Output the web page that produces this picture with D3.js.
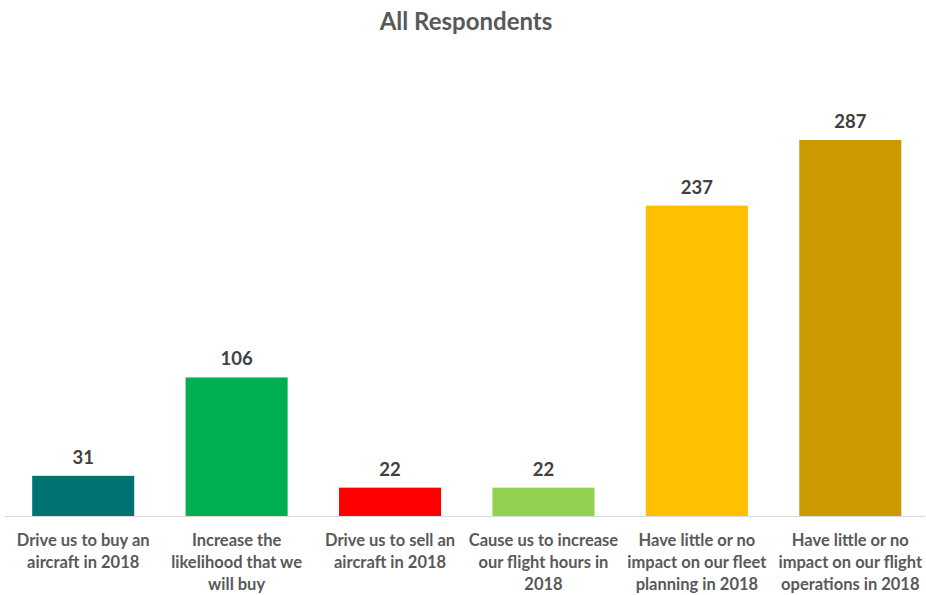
<!DOCTYPE html>
<html>
<head>
  <meta charset="utf-8">
  <title>All Respondents</title>
  <script src="https://d3js.org/d3.v7.min.js"></script>
  <style>
    body { margin: 0; background: #fff; }
    text { font-family: Lato, "Open Sans", sans-serif; font-weight: bold; }
  </style>
</head>
<body>
  <svg id="chart" width="926" height="595"></svg>

  <script>
    // category labels, one entry per line break
    var categories = [
      "Drive us to buy an\naircraft in 2018",
      "Increase the\nlikelihood that we\nwill buy",
      "Drive us to sell an\naircraft in 2018",
      "Cause us to increase\nour flight hours in\n2018",
      "Have little or no\nimpact on our fleet\nplanning in 2018",
      "Have little or no\nimpact on our flight\noperations in 2018"
    ];
    var values = [31, 106, 22, 22, 237, 287];
    var colors = ["#007272", "#00B050", "#FF0000", "#92D050", "#FFC000", "#CC9900"];

    var svg = d3.select("#chart");
    var baseY = 516.5;
    var topY = 140;

    var x = d3.scaleBand()
      .domain(d3.range(categories.length))
      .range([6.5, 927])
      .paddingInner(0.335)
      .paddingOuter(0.1675);

    var y = d3.scaleLinear()
      .domain([0, 287])
      .range([baseY, topY]);

    // title
    svg.append("text")
      .attr("x", 466)
      .attr("y", 30)
      .attr("text-anchor", "middle")
      .style("font-size", "24px")
      .style("fill", "#595959")
      .text("All Respondents");

    // bars
    svg.selectAll(".bar")
      .data(values)
      .enter().append("rect")
        .attr("class", "bar")
        .attr("x", function(d, i) { return x(i); })
        .attr("width", x.bandwidth())
        .attr("y", function(d) { return y(d); })
        .attr("height", function(d) { return baseY - y(d); })
        .style("fill", function(d, i) { return colors[i]; });

    // baseline
    svg.append("line")
      .attr("x1", 5).attr("x2", 925)
      .attr("y1", baseY).attr("y2", baseY)
      .style("stroke", "#D9D9D9")
      .style("stroke-width", 1);

    // value labels
    svg.selectAll(".val")
      .data(values)
      .enter().append("text")
        .attr("class", "val")
        .attr("x", function(d, i) { return x(i) + x.bandwidth() / 2; })
        .attr("y", function(d) { return y(d) - 12; })
        .attr("text-anchor", "middle")
        .style("font-size", "18.5px")
        .style("fill", "#404040")
        .text(function(d) { return d; });

    // category labels
    var lab = svg.selectAll(".cat")
      .data(categories)
      .enter().append("text")
        .attr("class", "cat")
        .attr("x", function(d, i) { return x(i) + x.bandwidth() / 2; })
        .attr("y", 546)
        .attr("text-anchor", "middle")
        .style("font-size", "16.5px")
        .style("fill", "#595959");

    lab.selectAll("tspan")
      .data(function(d) { return d.split("\n"); })
      .enter().append("tspan")
        .attr("x", function() { return d3.select(this.parentNode).attr("x"); })
        .attr("dy", function(d, i) { return i === 0 ? 0 : 22; })
        .text(function(d) { return d; });
  </script>
</body>
</html>
